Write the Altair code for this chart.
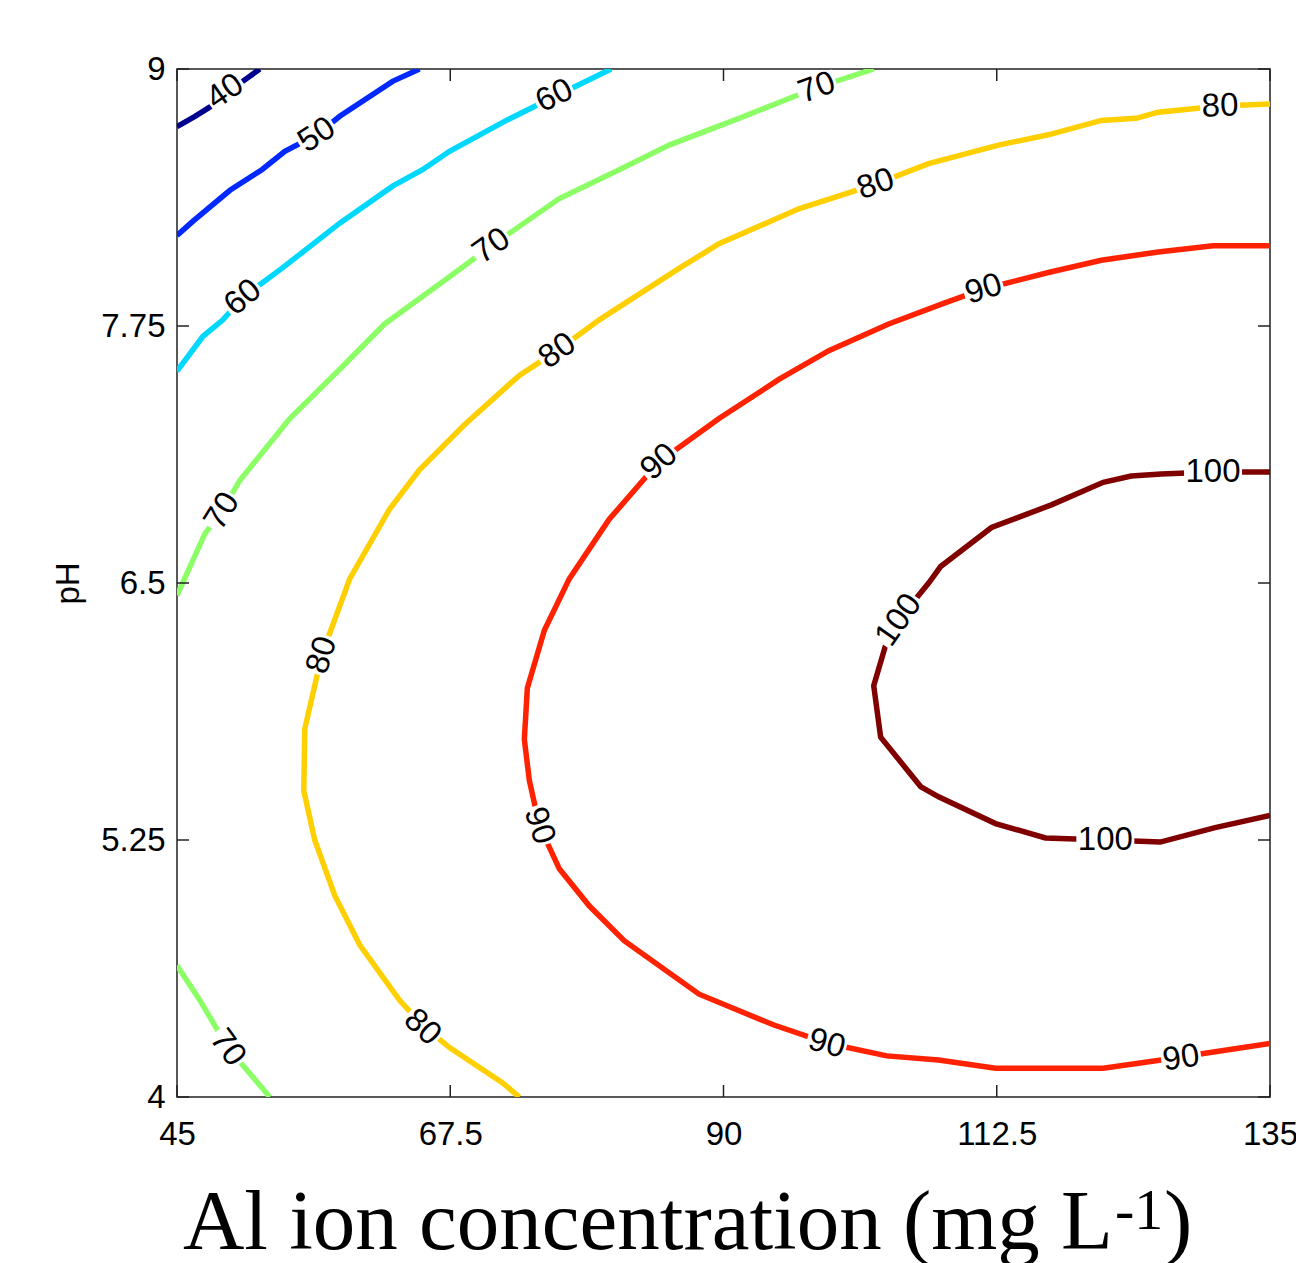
import altair as alt
import pandas as pd

# ---- contour polylines (Al ion concentration, pH) ----
c40_x = [45.0, 46.48, 48.12, 50.18, 51.82]
c40_y = [8.72, 8.77, 8.83, 8.93, 9.0]

c50_x = [45.0, 46.32, 49.36, 51.99, 53.88, 56.51, 58.40, 62.75, 64.97]
c50_y = [8.19, 8.26, 8.41, 8.51, 8.60, 8.68, 8.77, 8.94, 9.0]

c60_x = [45.0, 47.14, 48.78, 50.42, 53.63, 58.40, 62.75, 65.22, 67.44, 72.12, 74.84, 80.75]
c60_y = [7.53, 7.70, 7.78, 7.89, 8.03, 8.25, 8.43, 8.51, 8.60, 8.75, 8.83, 9.0]

c70a_x = [45.0, 47.30, 48.70, 50.18, 54.29, 58.40, 62.10, 67.44, 70.89, 76.48, 81.41, 85.52, 91.27, 97.68, 102.37]
c70a_y = [6.44, 6.74, 6.85, 7.00, 7.30, 7.54, 7.76, 7.99, 8.14, 8.37, 8.51, 8.63, 8.76, 8.91, 9.0]

c70b_x = [45.0, 46.89, 49.19, 52.64]
c70b_y = [4.64, 4.47, 4.24, 4.0]

c80_x = [135.0, 130.89, 125.79, 123.98, 121.11, 116.75, 112.64, 106.89, 102.53, 96.20, 89.63,
         86.34, 79.77, 76.31, 73.19, 68.67, 64.97, 62.51, 59.22, 56.92, 55.52, 55.44, 56.34,
         57.99, 60.04, 63.33, 65.38, 67.44, 71.79, 73.19]
c80_y = [8.83, 8.82, 8.79, 8.76, 8.75, 8.68, 8.63, 8.54, 8.44, 8.32, 8.15,
         8.03, 7.78, 7.63, 7.51, 7.27, 7.05, 6.86, 6.52, 6.15, 5.79, 5.49, 5.25,
         4.98, 4.74, 4.47, 4.34, 4.24, 4.07, 4.0]

c90_x = [135.0, 130.31, 125.79, 121.11, 116.75, 111.41, 108.12, 103.60, 98.67, 94.56, 89.63,
         84.70, 80.59, 77.30, 75.25, 73.85, 73.60, 74.01, 74.84, 76.48, 78.94, 81.82, 87.99,
         94.15, 98.67, 103.44, 107.71, 112.40, 121.27, 126.04, 130.48, 135.0]
c90_y = [8.14, 8.14, 8.11, 8.07, 8.01, 7.93, 7.86, 7.76, 7.63, 7.49, 7.30,
         7.09, 6.81, 6.52, 6.27, 5.99, 5.74, 5.54, 5.32, 5.11, 4.93, 4.76, 4.50,
         4.35, 4.26, 4.20, 4.18, 4.14, 4.14, 4.18, 4.22, 4.26]

c100_x = [135.0, 130.31, 126.04, 123.57, 121.27, 117.00, 112.07, 107.88, 106.89, 104.42, 103.36,
          102.37, 102.94, 106.23, 107.71, 112.40, 116.51, 121.44, 125.96, 130.48, 135.0]
c100_y = [7.04, 7.04, 7.03, 7.02, 6.99, 6.88, 6.77, 6.58, 6.50, 6.32, 6.20,
          6.00, 5.75, 5.51, 5.46, 5.33, 5.26, 5.25, 5.24, 5.31, 5.37]

segments = [("40", "s40", c40_x, c40_y), ("50", "s50", c50_x, c50_y), ("60", "s60", c60_x, c60_y),
            ("70", "s70a", c70a_x, c70a_y), ("70", "s70b", c70b_x, c70b_y),
            ("80", "s80", c80_x, c80_y), ("90", "s90", c90_x, c90_y), ("100", "s100", c100_x, c100_y)]

level_names = ["40", "50", "60", "70", "80", "90", "100"]
level_colors = ["#00008F", "#0028FF", "#00D8FF", "#8CFF66", "#FFCF00", "#FF2200", "#800000"]

# ---- contour labels ----
lab_text = ["40", "50", "60", "60", "70", "70", "70", "70", "80", "80", "80", "80", "80",
            "90", "90", "90", "90", "90", "100", "100", "100"]
lab_x = [48.95, 56.51, 50.42, 76.07, 48.70, 70.89, 97.68, 49.19, 130.89, 102.53, 76.31, 56.92, 65.22,
         111.41, 84.70, 74.84, 98.50, 127.68, 130.31, 104.42, 121.44]
lab_y = [8.89, 8.68, 7.89, 8.87, 6.85, 8.14, 8.91, 4.24, 8.82, 8.44, 7.63, 6.15, 4.34,
         7.93, 7.09, 5.32, 4.26, 4.19, 7.04, 6.32, 5.25]
lab_angle = [325, 327, 320, 334, 302, 325, 340, 54, 358, 341, 325, 287, 43,
             343, 318, 72, 15, 352, 0, 305, 0]

x_ticks = [45, 67.5, 90, 112.5, 135]
y_ticks = [4, 5.25, 6.5, 7.75, 9]

# x-axis title pieces: main text, superscript, closing parenthesis
xtitle_main = ["Al ion concentration (mg L"]
xtitle_sup = ["-1"]
xtitle_end = [")"]

W, H = 1093, 1028

rows = []
for lev, seg, xs_, ys_ in segments:
    for i, (a, b) in enumerate(zip(xs_, ys_)):
        rows.append({"level": lev, "seg": seg, "ord": i, "x": a, "y": b})
df_lines = pd.DataFrame(rows)

df_lab = pd.DataFrame({"text": lab_text, "x": lab_x, "y": lab_y, "angle": lab_angle})
df_lab2 = df_lab[df_lab["text"].str.len() == 2]
df_lab3 = df_lab[df_lab["text"].str.len() == 3]

xs = alt.Scale(domain=[45, 135], nice=False, zero=False)
ys = alt.Scale(domain=[4, 9], nice=False, zero=False)

xaxis = alt.Axis(values=x_ticks, labelExpr="datum.value + ''", ticks=False, domain=False, grid=False,
                 labelFont="Liberation Sans", labelFontSize=33, labelColor="black", labelPadding=21,
                 labelFlush=False, labelOverlap=False, title=None)
yaxis = alt.Axis(values=y_ticks, labelExpr="datum.value + ''", ticks=False, domain=False, grid=False,
                 labelFont="Liberation Sans", labelFontSize=33, labelColor="black", labelPadding=12,
                 labelOverlap=False, labelFlush=False,
                 title="pH", titleFont="Liberation Sans", titleFontSize=33, titleFontWeight="normal",
                 titleColor="black", titlePadding=15)


def X(field):
    return alt.X(field, scale=xs, axis=xaxis)


def Y(field):
    return alt.Y(field, scale=ys, axis=yaxis)


lines = alt.Chart(df_lines).mark_line(strokeWidth=5.5, clip=True, interpolate="linear").encode(
    x=X("x:Q"),
    y=Y("y:Q"),
    color=alt.Color("level:N", scale=alt.Scale(domain=level_names, range=level_colors), legend=None),
    detail="seg:N",
    order="ord:Q",
)

box2 = alt.Chart(df_lab2).mark_point(shape="M-1,-0.6L1,-0.6L1,0.6L-1,0.6Z", filled=True, fill="white",
                                     opacity=1, size=1600, strokeWidth=0).encode(
    x=X("x:Q"), y=Y("y:Q"), angle=alt.Angle("angle:Q", scale=None))
box3 = alt.Chart(df_lab3).mark_point(shape="M-1,-0.42L1,-0.42L1,0.42L-1,0.42Z", filled=True, fill="white",
                                     opacity=1, size=3364, strokeWidth=0).encode(
    x=X("x:Q"), y=Y("y:Q"), angle=alt.Angle("angle:Q", scale=None))

texts = alt.Chart(df_lab).mark_text(font="Liberation Sans", fontSize=33, align="center",
                                    baseline="middle", color="black").encode(
    x=X("x:Q"), y=Y("y:Q"), text="text:N", angle=alt.Angle("angle:Q", scale=None))

df_xt = pd.DataFrame({"x": x_ticks})
df_yt = pd.DataFrame({"y": y_ticks})
tk = dict(color="#222222", strokeWidth=1.5)
t_bottom = alt.Chart(df_xt).mark_rule(**tk).encode(x=X("x:Q"), y=alt.value(H), y2=alt.value(H - 12))
t_top = alt.Chart(df_xt).mark_rule(**tk).encode(x=X("x:Q"), y=alt.value(0), y2=alt.value(12))
t_left = alt.Chart(df_yt).mark_rule(**tk).encode(y=Y("y:Q"), x=alt.value(0), x2=alt.value(12))
t_right = alt.Chart(df_yt).mark_rule(**tk).encode(y=Y("y:Q"), x=alt.value(W), x2=alt.value(W - 12))

# x-axis title drawn as text pieces (to render the superscript)
ttl = dict(font="Liberation Serif", color="black", baseline="alphabetic")
title_main = alt.Chart(pd.DataFrame({"t": xtitle_main})).mark_text(fontSize=85, align="right", **ttl).encode(
    text="t:N", x=alt.value(936), y=alt.value(1180))
title_sup = alt.Chart(pd.DataFrame({"t": xtitle_sup})).mark_text(fontSize=58, align="left", **ttl).encode(
    text="t:N", x=alt.value(938), y=alt.value(1160))
title_end = alt.Chart(pd.DataFrame({"t": xtitle_end})).mark_text(fontSize=85, align="left", **ttl).encode(
    text="t:N", x=alt.value(987), y=alt.value(1180))

chart = alt.layer(lines, box2, box3, texts, t_bottom, t_top, t_left, t_right,
                  title_main, title_sup, title_end).properties(
    width=W, height=H,
    autosize=alt.AutoSizeParams(type="none"),
    padding={"left": 177, "top": 69, "right": 26, "bottom": 166},
    background="white",
).configure_view(stroke="#222222", strokeWidth=1.5)

chart.save("out.html", embed_options={"renderer": "svg", "actions": False})
